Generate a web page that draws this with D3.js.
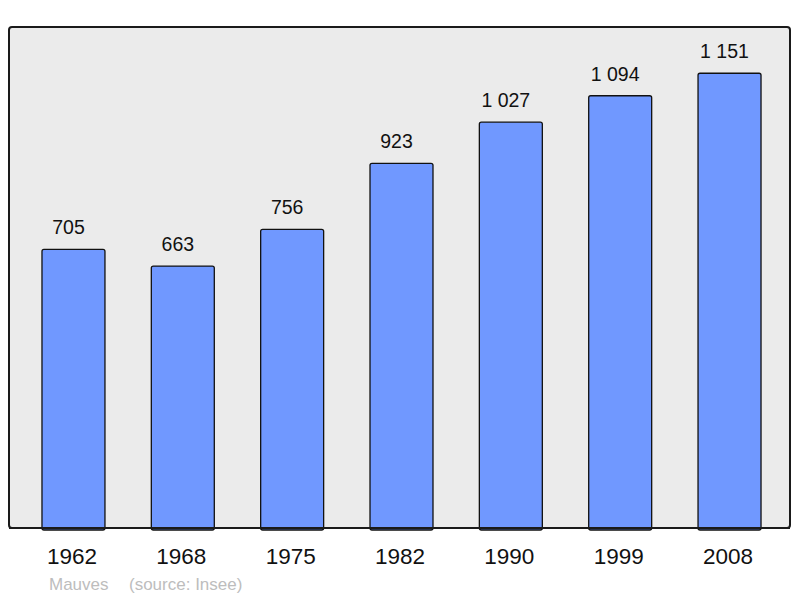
<!DOCTYPE html>
<html>
<head>
<meta charset="utf-8">
<script src="https://cdn.jsdelivr.net/npm/d3@7"></script>
<style>
  body { margin: 0; background: #fff; }
  svg { display: block; font-family: "Liberation Sans", Arial, sans-serif; }
</style>
</head>
<body>
<div id="chart"></div>
<script>
// Population data (Mauves, source: Insee)
const years = ['1962', '1968', '1975', '1982', '1990', '1999', '2008'];
const population = [705, 663, 756, 923, 1027, 1094, 1151];
const popLabels = ['705', '663', '756', '923', '1 027', '1 094', '1 151'];
const town = 'Mauves';
const source = '(source: Insee)';

const WIDTH = 800;
const HEIGHT = 598;

// frame of the plot
const frame = { left: 9, top: 27, right: 790, bottom: 528 };

const svg = d3.select('#chart').append('svg')
  .attr('width', WIDTH)
  .attr('height', HEIGHT);

svg.append('rect')
  .attr('x', frame.left)
  .attr('y', frame.top)
  .attr('width', frame.right - frame.left)
  .attr('height', frame.bottom - frame.top)
  .attr('rx', 3)
  .attr('fill', '#ebebeb')
  .attr('stroke', '#1a1a1a')
  .attr('stroke-width', 2);

const x = d3.scaleBand()
  .domain(years)
  .range([18.8, 784.2])
  .paddingInner(0.424)
  .paddingOuter(0.212);

const y = d3.scaleLinear()
  .domain([0, 1268])
  .range([frame.bottom, frame.top]);

// bars
svg.selectAll('rect.bar')
  .data(population)
  .enter().append('rect')
  .attr('class', 'bar')
  .attr('x', (d, i) => x(years[i]))
  .attr('y', d => y(d))
  .attr('width', x.bandwidth())
  .attr('height', d => frame.bottom - y(d) + 2)
  .attr('rx', 2)
  .attr('fill', '#7098ff')
  .attr('stroke', '#111')
  .attr('stroke-width', 1.3);

// redraw bottom border over bars
svg.append('line')
  .attr('x1', frame.left)
  .attr('x2', frame.right)
  .attr('y1', frame.bottom)
  .attr('y2', frame.bottom)
  .attr('stroke', '#1a1a1a')
  .attr('stroke-width', 2);

// value labels (sit a little left of the bar centre in the original)
svg.selectAll('text.value')
  .data(population)
  .enter().append('text')
  .attr('class', 'value')
  .attr('x', (d, i) => x(years[i]) + x.bandwidth() / 2 - 5)
  .attr('y', d => y(d) - 15)
  .attr('text-anchor', 'middle')
  .attr('font-size', 19.5)
  .attr('fill', '#111')
  .text((d, i) => popLabels[i]);

// x axis labels
const xAxis = d3.axisBottom(x).tickSize(0).tickPadding(0);
const gx = svg.append('g')
  .attr('transform', 'translate(-1.5,' + frame.bottom + ')')
  .call(xAxis);
gx.select('.domain').remove();
gx.selectAll('text')
  .attr('dy', null)
  .attr('y', 36)
  .attr('font-size', 22.5)
  .attr('font-family', '"Liberation Sans", Arial, sans-serif')
  .attr('fill', '#111');

// footer
svg.append('text')
  .attr('x', 49)
  .attr('y', 590)
  .attr('font-size', 17)
  .attr('fill', '#bdbdbd')
  .text(town);
svg.append('text')
  .attr('x', 129)
  .attr('y', 590)
  .attr('font-size', 17)
  .attr('fill', '#bdbdbd')
  .text(source);
</script>
</body>
</html>
